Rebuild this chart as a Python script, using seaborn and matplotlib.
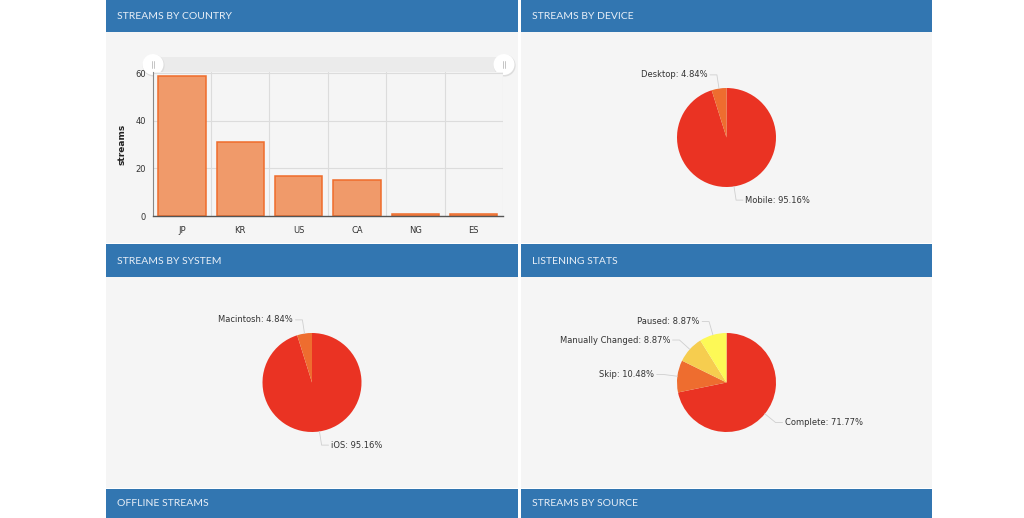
import numpy as np
import pandas as pd
import matplotlib
matplotlib.use("Agg")
import matplotlib.pyplot as plt
from matplotlib.patches import Rectangle, Circle
import seaborn as sns

# data
countries = ["JP", "KR", "US", "CA", "NG", "ES"]
streams = [59, 31, 17, 15, 1, 1]

device_labels = ["Mobile", "Desktop"]
device_counts = [118, 6]

system_labels = ["iOS", "Macintosh"]
system_counts = [118, 6]

listen_labels = ["Complete", "Skip", "Manually Changed", "Paused"]
listen_counts = [89, 13, 11, 11]

panel_titles = ["STREAMS BY COUNTRY", "STREAMS BY DEVICE", "STREAMS BY SYSTEM",
                "LISTENING STATS", "OFFLINE STREAMS", "STREAMS BY SOURCE"]

W, H = 1024, 518
BLUE = "#3276b1"
BODY = "#f5f5f5"
RED, ORANGE, GOLD, YELLOW = "#ea3323", "#ee6d2f", "#f6cd4f", "#fdf956"

sns.set_style("white")
plt.rcParams["font.family"] = ["DejaVu Sans"]

fig = plt.figure(figsize=(W / 100, H / 100), dpi=100)
fig.patch.set_facecolor("white")


def box(x0, y0, x1, y1):
    # pixel box -> figure fraction rect
    return [x0 / W, 1 - y1 / H, (x1 - x0) / W, (y1 - y0) / H]


cols = [(106, 518), (521, 932)]
headers = [(0, 32), (244, 277), (489, 518)]
bodies = [(32, 243), (277, 488)]

bg = fig.add_axes([0, 0, 1, 1])
bg.set_xlim(0, W)
bg.set_ylim(H, 0)
bg.axis("off")
k = 0
for r, (hy0, hy1) in enumerate(headers):
    for (x0, x1) in cols:
        bg.add_patch(Rectangle((x0, hy0), x1 - x0, hy1 - hy0, color=BLUE, lw=0))
        bg.text(x0 + 11, (hy0 + hy1) / 2 + 0.5, panel_titles[k], color="#e8eff7",
                fontsize=7.5, family="Lato", va="center", ha="left")
        k += 1
        if r < 2:
            by0, by1 = bodies[r]
            bg.add_patch(Rectangle((x0, by0), x1 - x0, by1 - by0, color=BODY, lw=0))

# ---- bar chart ----
ax = fig.add_axes(box(152.7, 72, 503, 216))
df = pd.DataFrame({"country": countries, "streams": streams})
sns.barplot(data=df, x="country", y="streams", color="#f09a6a", saturation=1,
            edgecolor="#ef6c2b", linewidth=1.1, width=0.81, ax=ax, zorder=3)
ax.set_facecolor(BODY)
ax.set_xlim(-0.5, len(countries) - 0.5)
ax.set_ylim(0, 60.55)
ax.set_yticks([0, 20, 40, 60])
for y in [20, 40, 60]:
    ax.axhline(y, color="#dcdcdc", lw=0.8, zorder=1)
for x in np.arange(0.5, len(countries) + 0.5, 1):
    ax.axvline(x, color="#dcdcdc", lw=0.8, zorder=1)
for s in ["top", "right"]:
    ax.spines[s].set_visible(False)
ax.spines["left"].set_color("#888888")
ax.spines["left"].set_linewidth(0.8)
ax.spines["bottom"].set_color("#555555")
ax.spines["bottom"].set_linewidth(1.0)
ax.spines["bottom"].set_zorder(4)
ax.tick_params(axis="both", length=3, width=0.7, color="#555555",
               labelsize=6, labelcolor="#333333", pad=4)
ax.tick_params(axis="y", pad=2)
ax.set_xlabel("")
ax.set_ylabel("streams", fontsize=6.5, fontweight="bold", color="#222222", labelpad=6)

# navigator strip with handles above the plot
bg.add_patch(Rectangle((155, 57), 350, 15, color="#ebebeb", lw=0, zorder=2))
for hx in (153, 504):
    bg.add_patch(Circle((hx + 0.6, 65.5), 11, color="#dddddd", lw=0, zorder=3))
    bg.add_patch(Circle((hx, 64.5), 10.5, color="white", lw=0, zorder=4))
    for dx in (-1.2, 1.2):
        bg.plot([hx + dx, hx + dx], [61, 68], color="#bbbbbb", lw=0.6, zorder=5)


# ---- pies ----
def pie_panel(col, row, labels, counts, colors):
    x0, x1 = cols[col]
    y0, y1 = bodies[row]
    cx, cy, r = (x0 + x1) / 2, (y0 + y1) / 2, 49.5
    pax = fig.add_axes(box(x0, y0, x1, y1))
    pax.axis("off")
    wedges, _ = pax.pie(counts, colors=colors, startangle=90, counterclock=False,
                        wedgeprops=dict(linewidth=0))
    pax.set_aspect("auto")
    pax.set_xlim(-(cx - x0) / r, (x1 - cx) / r)
    pax.set_ylim(-(y1 - cy) / r, (cy - y0) / r)
    total = sum(counts)
    for w, lab, c in zip(wedges, labels, counts):
        ang = np.deg2rad((w.theta1 + w.theta2) / 2)
        ex, ey = np.cos(ang), np.sin(ang)
        bx, by = 1.28 * ex, 1.28 * ey
        side = 1 if ex >= 0 else -1
        hx = bx + side * 0.14
        pax.plot([ex, bx, hx], [ey, by, by], color="#cfcfcf", lw=0.6, clip_on=False)
        pax.text(hx + side * 0.05, by, f"{lab}: {100 * c / total:.2f}%", fontsize=6,
                 color="#333333", ha="left" if side > 0 else "right", va="center")


pie_panel(1, 0, device_labels, device_counts, [RED, ORANGE])
pie_panel(0, 1, system_labels, system_counts, [RED, ORANGE])
pie_panel(1, 1, listen_labels, listen_counts, [RED, ORANGE, GOLD, YELLOW])

fig.savefig("out.png", dpi=100, facecolor="white")
